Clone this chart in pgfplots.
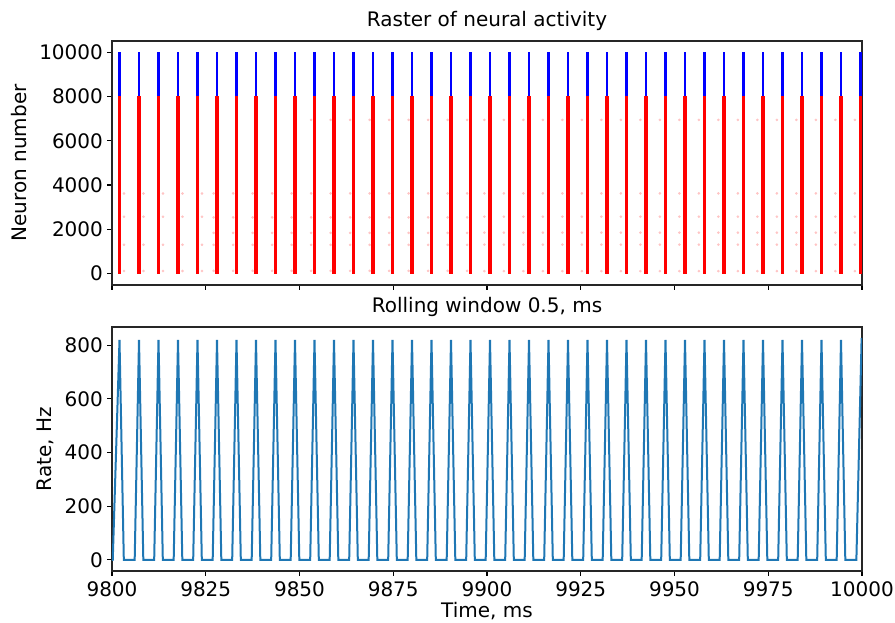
\documentclass[border=0pt]{standalone}
\usepackage{pgfplots}
\pgfplotsset{compat=1.18}
\usepackage{pgfplotstable}
\usepackage{fontspec}
\setmainfont{DejaVu Sans}
\newcommand\fs{\fontsize{20}{24}\selectfont}
\definecolor{mplblue}{HTML}{1F77B4}
\definecolor{dotpink}{HTML}{FFC4C4}

% spike times of the population bursts
\pgfplotstableread{
t      inh   exc
9802.0 9999 7999
9807.2 9999 7999
9812.4 9999 7999
9817.6 9999 7999
9822.8 9999 7999
9828.0 9999 7999
9833.2 9999 7999
9838.4 9999 7999
9843.6 9999 7999
9848.8 9999 7999
9854.0 9999 7999
9859.2 9999 7999
9864.4 9999 7999
9869.6 9999 7999
9874.8 9999 7999
9880.0 9999 7999
9885.2 9999 7999
9890.4 9999 7999
9895.6 9999 7999
9900.8 9999 7999
9906.0 9999 7999
9911.2 9999 7999
9916.4 9999 7999
9921.6 9999 7999
9926.8 9999 7999
9932.0 9999 7999
9937.2 9999 7999
9942.4 9999 7999
9947.6 9999 7999
9952.8 9999 7999
9958.0 9999 7999
9963.2 9999 7999
9968.4 9999 7999
9973.6 9999 7999
9978.8 9999 7999
9984.0 9999 7999
9989.2 9999 7999
9994.4 9999 7999
9999.6 9999 7999
}\spikes

% sparse single spikes between bursts
\pgfplotstableread{
t      a    b    c    d    e    f
9803.2 nan  3620 2570 nan  1310 120
9808.4 nan  3620 2570 nan  1310 120
9813.6 nan  3620 2570 nan  1310 120
9818.8 nan  3620 2570 nan  1310 120
9824.0 nan  3620 2570 nan  1310 120
9827.1 nan  3620 2540 1840 1300 130
9832.3 nan  3620 2540 1840 1300 130
9837.5 nan  3620 2540 1840 1300 130
9842.7 nan  3620 2540 1840 1300 130
9847.9 nan  3620 2540 1840 1300 130
9853.1 6940 3620 2540 1840 1300 130
9858.3 6940 3620 2540 1840 1300 130
9863.5 6940 3620 2540 1840 1300 130
9868.7 6940 3620 2540 1840 1300 130
9873.9 6940 3620 2540 1840 1300 130
9879.1 6940 3620 2540 1840 1300 130
9884.3 6940 3620 2540 1840 1300 130
9889.5 6940 3620 2540 1840 1300 130
9894.7 6940 3620 2540 1840 1300 130
9899.3 6940 3620 2570 1850 1310 120
9904.5 6940 3620 2570 1850 1310 120
9909.7 6940 3620 2570 1850 1310 120
9914.9 6940 3620 2570 1850 1310 120
9920.1 6940 3620 2570 1850 1310 120
9925.3 6940 3620 2570 1850 1310 120
9930.5 6940 3620 2570 1850 1310 120
9935.7 6940 3620 2570 1850 1310 120
9940.9 6940 3620 2570 1850 1310 120
9946.1 6940 3620 2570 1850 1310 120
9951.3 6940 3620 2570 1850 1310 120
9956.5 6940 3620 2570 1850 1310 120
9961.7 6940 3620 2570 1850 1310 120
9966.9 6940 3620 2570 1850 1310 120
9972.1 6940 3620 2570 1850 1310 120
9977.3 6940 3620 2570 1850 1310 120
9982.5 6940 3620 2570 1850 1310 120
9987.7 6940 3620 2570 1850 1310 120
9992.9 6940 3620 2570 1850 1310 120
9998.1 6940 3620 2570 1850 1310 120
}\singles

% rolling-window population rate
\pgfplotstableread{
t       r
9800.0  0
9800.2  0
9802.0  820
9803.15 0
9806.05 0
9807.2  820
9808.35 0
9811.25 0
9812.4  820
9813.55 0
9816.45 0
9817.6  820
9818.75 0
9821.65 0
9822.8  820
9823.95 0
9826.85 0
9828.0  820
9829.15 0
9832.05 0
9833.2  820
9834.35 0
9837.25 0
9838.4  820
9839.55 0
9842.45 0
9843.6  820
9844.75 0
9847.65 0
9848.8  820
9849.95 0
9852.85 0
9854.0  820
9855.15 0
9858.05 0
9859.2  820
9860.35 0
9863.25 0
9864.4  820
9865.55 0
9868.45 0
9869.6  820
9870.75 0
9873.65 0
9874.8  820
9875.95 0
9878.85 0
9880.0  820
9881.15 0
9884.05 0
9885.2  820
9886.35 0
9889.25 0
9890.4  820
9891.55 0
9894.45 0
9895.6  820
9896.75 0
9899.65 0
9900.8  820
9901.95 0
9904.85 0
9906.0  820
9907.15 0
9910.05 0
9911.2  820
9912.35 0
9915.25 0
9916.4  820
9917.55 0
9920.45 0
9921.6  820
9922.75 0
9925.65 0
9926.8  820
9927.95 0
9930.85 0
9932.0  820
9933.15 0
9936.05 0
9937.2  820
9938.35 0
9941.25 0
9942.4  820
9943.55 0
9946.45 0
9947.6  820
9948.75 0
9951.65 0
9952.8  820
9953.95 0
9956.85 0
9958.0  820
9959.15 0
9962.05 0
9963.2  820
9964.35 0
9967.25 0
9968.4  820
9969.55 0
9972.45 0
9973.6  820
9974.75 0
9977.65 0
9978.8  820
9979.95 0
9982.85 0
9984.0  820
9985.15 0
9988.05 0
9989.2  820
9990.35 0
9993.25 0
9994.4  820
9995.55 0
9998.5  0
9999.9  827
}\rate

\pgfplotsset{
  mplstyle/.style={
    width=750pt, height=244pt, scale only axis,
    xmin=9800, xmax=10000,
    xtick={9800,9825,...,10000},
    scaled ticks=false,
    tick pos=left, tick align=outside,
    major tick length=4.9pt,
    every tick/.style={black, line width=1.1pt},
    axis line style={black!85, line width=1.1pt},
    /pgf/number format/assume math mode=true,
    /pgf/number format/1000 sep={},
    /pgf/number format/fixed,
    tick label style={font=\fs},
    yticklabel style={inner sep=4pt},
    xticklabel style={anchor=base, yshift=-20.5pt},
    title style={font=\fs, at={(0.5,1)}, anchor=base, inner sep=0pt, yshift=8pt},
    every axis x label/.style={at={(axis description cs:0.5,-0.19)}, anchor=base, font=\fs},
    clip=true,
  },
}

\begin{document}
\begin{tikzpicture}
\path[use as bounding box] (0,0) rectangle (895pt,623pt);

\begin{axis}[mplstyle,
  at={(112pt,338pt)}, anchor=south west,
  ymin=-510, ymax=10500,
  ytick={0,2000,...,10000},
  xticklabels={},
  title={Raster of neural activity},
  ylabel={Neuron number},
  every axis y label/.style={at={(axis description cs:-0.1137,0.5)}, rotate=90, anchor=base, font=\fs},
]
\addplot[only marks, mark=*, mark size=1.1pt, dotpink, draw=none] table[x=t, y=a] {\singles};
\addplot[only marks, mark=*, mark size=1.1pt, dotpink, draw=none] table[x=t, y=b] {\singles};
\addplot[only marks, mark=*, mark size=1.1pt, dotpink, draw=none] table[x=t, y=c] {\singles};
\addplot[only marks, mark=*, mark size=1.1pt, dotpink, draw=none] table[x=t, y=d] {\singles};
\addplot[only marks, mark=*, mark size=1.1pt, dotpink, draw=none] table[x=t, y=e] {\singles};
\addplot[only marks, mark=*, mark size=1.1pt, dotpink, draw=none] table[x=t, y=f] {\singles};
\addplot[ycomb, blue, line width=2.6pt, mark=none] table[x=t, y=inh] {\spikes};
\addplot[ycomb, red, line width=3.3pt, mark=none] table[x=t, y=exc] {\spikes};
\end{axis}

\begin{axis}[mplstyle,
  at={(112pt,52pt)}, anchor=south west,
  ymin=-41.4, ymax=868,
  ytick={0,200,...,800},
  title={Rolling window 0.5, ms},
  xlabel={Time, ms},
  ylabel={Rate, Hz},
  every axis y label/.style={at={(axis description cs:-0.08,0.5)}, rotate=90, anchor=base, font=\fs},
]
\addplot[mplblue, line width=2pt, mark=none] table[x=t, y=r] {\rate};
\end{axis}
\end{tikzpicture}
\end{document}
